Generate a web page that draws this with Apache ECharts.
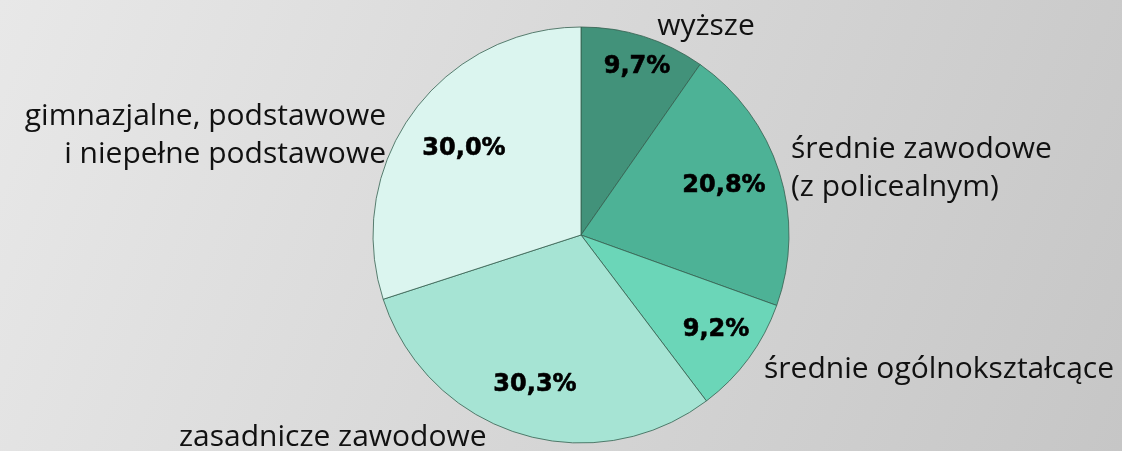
<!DOCTYPE html>
<html>
<head>
<meta charset="utf-8">
<script src="https://cdn.jsdelivr.net/npm/echarts@6/dist/echarts.min.js"></script>
<style>
  html, body { margin: 0; padding: 0; }
  #chart-container { width: 1122px; height: 451px; }
</style>
</head>
<body>
<div id="chart-container"></div>
<script>
  // data
  var categories = ['wyższe', 'średnie zawodowe\n(z policealnym)', 'średnie ogólnokształcące', 'zasadnicze zawodowe', 'gimnazjalne, podstawowe\ni niepełne podstawowe'];
  var shares = [9.7, 20.8, 9.2, 30.3, 30.0];
  var colors = ['#42927a', '#4db296', '#6bd6b8', '#a6e4d4', '#dbf5ef'];

  // label placement (px) for the outer names and the inner percentages
  var namePos = [
    { x: 706, y: 26, align: 'center' },
    { x: 791, y: 168, align: 'left' },
    { x: 764, y: 369, align: 'left' },
    { x: 179, y: 437, align: 'left' },
    { x: 386, y: 135, align: 'right' }
  ];
  var pctPos = [[637, 67], [724, 186], [716, 330], [535, 385], [464, 149]];

  var dom = document.getElementById('chart-container');
  var myChart = echarts.init(dom, null, { renderer: 'canvas' });

  var pieData = categories.map(function (c, i) {
    return { name: c, value: shares[i], itemStyle: { color: colors[i] } };
  });

  var option = {
    backgroundColor: {
      type: 'linear', x: 0, y: 0, x2: 1, y2: 1,
      colorStops: [
        { offset: 0, color: '#e8e8e8' },
        { offset: 1, color: '#c6c6c6' }
      ]
    },
    animation: false,
    series: [
      {
        type: 'pie',
        center: [581, 235],
        radius: 208,
        startAngle: 90,
        clockwise: true,
        data: pieData,
        itemStyle: { borderColor: '#35604f', borderWidth: 0.8 },
        label: {
          show: true,
          position: 'inside',
          formatter: function (p) { return p.value.toFixed(1).replace('.', ',') + '%'; },
          fontFamily: 'DejaVu Sans',
          fontWeight: 'bold',
          fontSize: 24,
          color: '#000',
          textBorderColor: '#000',
          textBorderWidth: 0.6
        },
        labelLine: { show: false },
        labelLayout: function (p) {
          var pos = pctPos[p.dataIndex];
          return { x: pos[0], y: pos[1], align: 'center', verticalAlign: 'middle' };
        },
        emphasis: { disabled: true }
      },
      {
        type: 'pie',
        center: [581, 235],
        radius: 208,
        startAngle: 90,
        clockwise: true,
        silent: true,
        data: pieData.map(function (d) {
          return { name: d.name, value: d.value, itemStyle: { color: 'rgba(0,0,0,0)' } };
        }),
        itemStyle: { borderWidth: 0 },
        label: {
          show: true,
          position: 'outside',
          alignTo: 'none',
          overflow: 'none',
          formatter: '{b}',
          fontFamily: 'Open Sans',
          fontSize: 30,
          lineHeight: 38,
          color: '#111'
        },
        labelLine: { show: false },
        labelLayout: function (p) {
          var pos = namePos[p.dataIndex];
          return { x: pos.x, y: pos.y, align: pos.align, verticalAlign: 'middle' };
        }
      }
    ]
  };

  myChart.setOption(option);
</script>
</body>
</html>
